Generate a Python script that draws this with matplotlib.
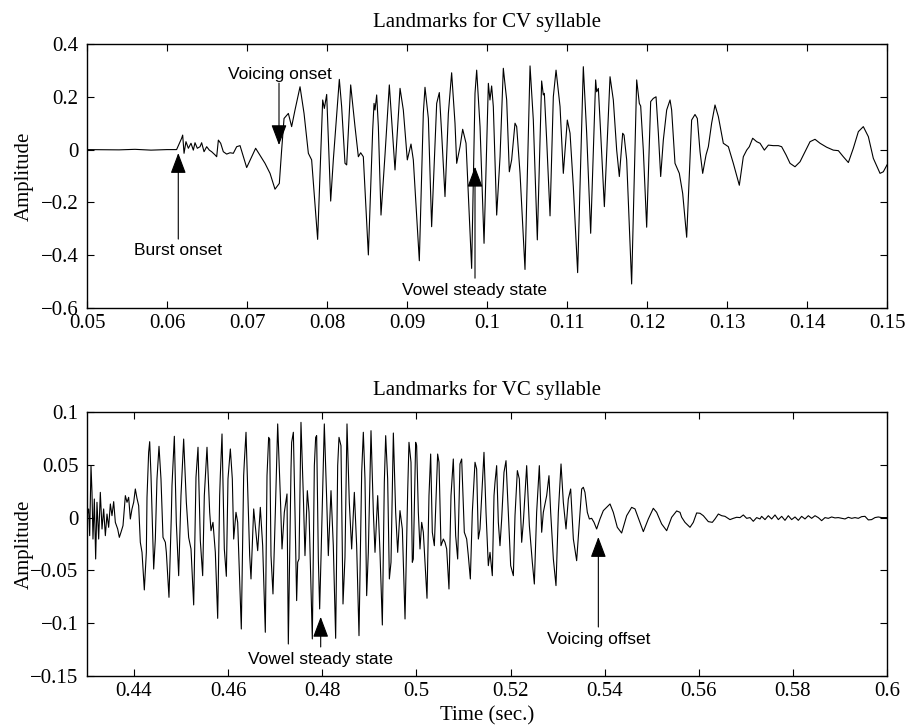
import matplotlib
matplotlib.use("Agg")
import matplotlib.pyplot as plt
from matplotlib.ticker import FixedLocator, FuncFormatter

# ---- CV syllable waveform (time in s, amplitude) ----
cv_time = [
    0.0500, 0.0540, 0.0560, 0.0580, 0.0600, 0.0612, 0.06183, 0.06196, 0.06213, 0.06237,
    0.06267, 0.06300, 0.06329, 0.06350, 0.06379, 0.06413, 0.06433, 0.06463, 0.06496, 0.06529,
    0.06558, 0.06600, 0.06621, 0.06642, 0.06671, 0.06704, 0.06746, 0.06788, 0.06829, 0.06871,
    0.06913, 0.06996, 0.07108, 0.07225, 0.07288, 0.07350, 0.07404, 0.07433, 0.07463, 0.07517,
    0.07558, 0.07600, 0.07663, 0.07713, 0.07767, 0.07808, 0.07883, 0.07946, 0.07967, 0.07996,
    0.08017, 0.08046, 0.08079, 0.08154, 0.08183, 0.08225, 0.08246, 0.08296, 0.08350, 0.08392,
    0.08421, 0.08454, 0.08517, 0.08571, 0.08588, 0.08600, 0.08621, 0.08642, 0.08675, 0.08725,
    0.08779, 0.08850, 0.08913, 0.08954, 0.09004, 0.09050, 0.09079, 0.09154, 0.09204, 0.09225,
    0.09267, 0.09308, 0.09371, 0.09404, 0.09433, 0.09475, 0.09517, 0.09558, 0.09600, 0.09621,
    0.09663, 0.09696, 0.09738, 0.09808, 0.09850, 0.09871, 0.09913, 0.09963, 0.10017, 0.10037,
    0.10058, 0.10079, 0.10121, 0.10163, 0.10204, 0.10246, 0.10279, 0.10308, 0.10350, 0.10371,
    0.10413, 0.10475, 0.10538, 0.10579, 0.10629, 0.10683, 0.10704, 0.10717, 0.10746, 0.10788,
    0.10829, 0.10863, 0.10913, 0.10954, 0.11004, 0.11038, 0.11079, 0.11133, 0.11204, 0.11246,
    0.11296, 0.11358, 0.11371, 0.11392, 0.11421, 0.11467, 0.11538, 0.11579, 0.11621, 0.11654,
    0.11696, 0.11713, 0.11746, 0.11808, 0.11871, 0.11904, 0.11921, 0.11954, 0.11996, 0.12046,
    0.12079, 0.12113, 0.12142, 0.12171, 0.12204, 0.12246, 0.12288, 0.12308, 0.12350, 0.12404,
    0.12446, 0.12496, 0.12558, 0.12600, 0.12629, 0.12663, 0.12696, 0.12738, 0.12767, 0.12808,
    0.12850, 0.12892, 0.12954, 0.13017, 0.13079, 0.13154, 0.13204, 0.13246, 0.13279, 0.13321,
    0.13371, 0.13413, 0.13467, 0.13517, 0.13579, 0.13642, 0.13683, 0.13738, 0.13788, 0.13850,
    0.13913, 0.13975, 0.14038, 0.14100, 0.14163, 0.14246, 0.14329, 0.14392, 0.14454, 0.14517,
    0.14579, 0.14642, 0.14704, 0.14767, 0.14829, 0.14913, 0.14954, 0.15000,
]
cv_amp = [
    0.000, -0.001, 0.001, -0.002, 0.000, 0.000, 0.043, 0.055, -0.014, 0.030,
    0.005, 0.024, -0.002, 0.026, 0.005, 0.011, 0.026, -0.008, 0.011, -0.002,
    -0.008, -0.020, -0.027, 0.036, 0.024, -0.008, -0.017, -0.012, -0.014, 0.011,
    0.015, -0.068, 0.005, -0.052, -0.090, -0.150, -0.128, -0.002, 0.118, 0.137,
    0.087, 0.150, 0.238, 0.137, -0.014, -0.039, -0.340, 0.188, 0.156, 0.209,
    0.036, -0.195, -0.039, 0.266, 0.163, -0.052, -0.058, 0.245, 0.087, -0.027,
    -0.012, -0.027, -0.399, 0.074, 0.175, 0.150, 0.207, 0.087, -0.248, -0.020,
    0.245, -0.077, 0.232, 0.150, -0.039, 0.021, -0.039, -0.421, 0.137, 0.236,
    0.118, -0.292, 0.175, 0.216, 0.062, -0.178, 0.137, 0.291, 0.100, -0.052,
    0.011, 0.077, 0.024, -0.450, 0.213, 0.301, 0.087, -0.355, 0.251, 0.188,
    0.241, 0.163, -0.248, -0.027, 0.308, 0.188, -0.084, -0.039, 0.100, 0.087,
    -0.090, -0.454, 0.317, 0.112, -0.342, 0.260, 0.207, 0.213, 0.036, -0.251,
    0.200, 0.301, 0.163, -0.090, 0.112, 0.062, -0.140, -0.466, 0.314, 0.062,
    -0.317, 0.264, 0.219, 0.232, 0.062, -0.216, 0.276, 0.188, -0.002, -0.102,
    0.062, 0.055, -0.039, -0.509, 0.264, 0.175, 0.165, -0.002, -0.294, 0.182,
    0.194, 0.200, 0.062, -0.102, 0.036, 0.150, 0.188, 0.150, -0.052, -0.090,
    -0.166, -0.332, 0.112, 0.133, 0.118, -0.008, -0.090, -0.020, 0.011, 0.100,
    0.169, 0.125, 0.024, 0.011, -0.052, -0.135, -0.027, -0.002, 0.011, 0.043,
    0.030, 0.024, -0.002, 0.017, 0.015, 0.015, 0.011, -0.020, -0.052, -0.065,
    -0.046, -0.008, 0.030, 0.039, 0.024, 0.009, -0.002, -0.004, -0.027, -0.049,
    0.005, 0.068, 0.087, 0.049, -0.033, -0.090, -0.084, -0.058,
]

# ---- VC syllable waveform ----
vc_time = [
    0.43000, 0.43035, 0.43057, 0.43085, 0.43106, 0.43127, 0.43156, 0.43184, 0.43212, 0.43248,
    0.43283, 0.43319, 0.43354, 0.43390, 0.43425, 0.43460, 0.43496, 0.43531, 0.43567, 0.43602,
    0.43652, 0.43687, 0.43722, 0.43765, 0.43815, 0.43850, 0.43885, 0.43921, 0.43956, 0.43992,
    0.44027, 0.44062, 0.44098, 0.44133, 0.44169, 0.44218, 0.44261, 0.44275, 0.44310, 0.44332,
    0.44360, 0.44417, 0.44452, 0.44487, 0.44530, 0.44572, 0.44615, 0.44665, 0.44686, 0.44742,
    0.44792, 0.44806, 0.44856, 0.44898, 0.44948, 0.44997, 0.45054, 0.45111, 0.45160, 0.45210,
    0.45267, 0.45302, 0.45316, 0.45359, 0.45408, 0.45458, 0.45493, 0.45550, 0.45607, 0.45635,
    0.45677, 0.45727, 0.45777, 0.45819, 0.45833, 0.45869, 0.45918, 0.45961, 0.45996, 0.46046,
    0.46088, 0.46117, 0.46166, 0.46202, 0.46279, 0.46329, 0.46343, 0.46379, 0.46457, 0.46485,
    0.46542, 0.46627, 0.46683, 0.46733, 0.46789, 0.46825, 0.46860, 0.46882, 0.46910, 0.46952,
    0.47002, 0.47052, 0.47108, 0.47144, 0.47193, 0.47250, 0.47278, 0.47335, 0.47349, 0.47385,
    0.47420, 0.47455, 0.47477, 0.47505, 0.47547, 0.47597, 0.47632, 0.47682, 0.47718, 0.47788,
    0.47831, 0.47859, 0.47880, 0.47916, 0.47944, 0.47972, 0.48043, 0.48093, 0.48128, 0.48185,
    0.48234, 0.48284, 0.48327, 0.48355, 0.48397, 0.48440, 0.48482, 0.48525, 0.48574, 0.48624,
    0.48681, 0.48730, 0.48780, 0.48837, 0.48872, 0.48907, 0.48943, 0.48978, 0.49035, 0.49085,
    0.49120, 0.49177, 0.49226, 0.49276, 0.49318, 0.49347, 0.49389, 0.49425, 0.49460, 0.49510,
    0.49559, 0.49602, 0.49651, 0.49701, 0.49758, 0.49814, 0.49842, 0.49885, 0.49913, 0.49934,
    0.49984, 0.50005, 0.50041, 0.50076, 0.50112, 0.50147, 0.50225, 0.50267, 0.50303, 0.50338,
    0.50381, 0.50451, 0.50480, 0.50522, 0.50572, 0.50607, 0.50643, 0.50692, 0.50735, 0.50784,
    0.50834, 0.50877, 0.50926, 0.50962, 0.51018, 0.51068, 0.51103, 0.51146, 0.51188, 0.51245,
    0.51280, 0.51316, 0.51351, 0.51436, 0.51479, 0.51528, 0.51564, 0.51613, 0.51649, 0.51670,
    0.51705, 0.51741, 0.51776, 0.51812, 0.51861, 0.51904, 0.51953, 0.52003, 0.52060, 0.52095,
    0.52145, 0.52187, 0.52237, 0.52272, 0.52343, 0.52400, 0.52463, 0.52506, 0.52555, 0.52612,
    0.52662, 0.52697, 0.52768, 0.52817, 0.52853, 0.52910, 0.52966, 0.53016, 0.53073, 0.53122,
    0.53179, 0.53228, 0.53278, 0.53335, 0.53405, 0.53476, 0.53512, 0.53547, 0.53582, 0.53632,
    0.53675, 0.53724, 0.53774, 0.53830, 0.53901, 0.53972, 0.54043, 0.54114, 0.54184, 0.54269,
    0.54361, 0.54468, 0.54574, 0.54645, 0.54751, 0.54822, 0.54928, 0.55034, 0.55105, 0.55211,
    0.55318, 0.55424, 0.55530, 0.55601, 0.55637, 0.55707, 0.55814, 0.55884, 0.55955, 0.56026,
    0.56097, 0.56203, 0.56288, 0.56345, 0.56416, 0.56487, 0.56557, 0.56663, 0.56734, 0.56805,
    0.56876, 0.56947, 0.57018, 0.57089, 0.57159, 0.57230, 0.57301, 0.57336, 0.57407, 0.57478,
    0.57549, 0.57620, 0.57691, 0.57762, 0.57832, 0.57903, 0.57974, 0.58045, 0.58116, 0.58186,
    0.58257, 0.58328, 0.58399, 0.58470, 0.58540, 0.58611, 0.58682, 0.58753, 0.58824, 0.58895,
    0.58965, 0.59036, 0.59107, 0.59178, 0.59249, 0.59320, 0.59390, 0.59461, 0.59532, 0.59603,
    0.59673, 0.59744, 0.59815, 0.59886, 0.60000,
]
vc_amp = [
    0.0018, 0.0082, -0.0171, 0.0492, 0.0239, -0.0203, 0.0176, -0.0392, 0.0145, -0.0203,
    0.0239, -0.0108, 0.0082, -0.0171, 0.0034, -0.0092, 0.0129, 0.0018, 0.0151, -0.0045,
    -0.0108, -0.0187, -0.0139, -0.0076, 0.0208, 0.0145, 0.0192, -0.0013, 0.0082, 0.0145,
    0.0271, 0.0183, 0.0113, -0.0234, -0.0329, -0.0685, -0.0329, 0.0192, 0.0618, 0.0719,
    0.0397, -0.0487, -0.0203, 0.0366, 0.0675, 0.0366, -0.0187, -0.0234, -0.0329, -0.0755,
    0.0018, 0.0303, 0.0770, -0.0045, -0.0550, 0.0208, 0.0744, 0.0145, -0.0187, -0.0297,
    -0.0827, 0.0050, 0.0382, 0.0666, -0.0218, -0.0550, 0.0208, 0.0666, 0.0050, -0.0124,
    -0.0045, -0.0329, -0.0954, 0.0208, 0.0397, 0.0792, -0.0297, -0.0556, 0.0366, 0.0650,
    0.0366, -0.0203, 0.0050, -0.0045, -0.1055, 0.0397, 0.0524, 0.0808, -0.0360, -0.0581,
    0.0082, -0.0313, 0.0097, -0.0266, -0.1086, 0.0397, 0.0760, 0.0744, -0.0360, -0.0723,
    0.0050, 0.0887, 0.0208, -0.0297, 0.0050, 0.0224, -0.1197, 0.0460, 0.0713, 0.0808,
    0.0050, -0.0786, -0.0423, -0.0392, 0.0902, 0.0208, -0.0360, 0.0255, 0.0050, -0.1149,
    0.0492, 0.0760, 0.0776, -0.0392, -0.0865, -0.0392, 0.0887, 0.0176, -0.0360, 0.0255,
    -0.0266, -0.1143, 0.0492, 0.0760, 0.0681, -0.0818, -0.0376, 0.0887, 0.0145, -0.0297,
    0.0239, -0.0266, -0.1118, 0.0429, 0.0808, 0.0366, -0.0739, -0.0329, 0.0823, 0.0050,
    -0.0329, 0.0208, -0.0329, -0.1017, 0.0334, 0.0776, 0.0366, -0.0581, -0.0423, 0.0801,
    0.0050, -0.0329, 0.0066, -0.0108, -0.0960, 0.0239, 0.0713, 0.0524, -0.0423, -0.0392,
    0.0713, 0.0681, 0.0050, -0.0297, -0.0045, -0.0139, -0.0764, 0.0208, 0.0602, -0.0139,
    -0.0266, 0.0602, 0.0524, -0.0266, -0.0203, -0.0234, -0.0297, -0.0676, 0.0208, 0.0555,
    -0.0171, -0.0392, 0.0508, 0.0555, -0.0139, -0.0203, -0.0360, -0.0581, 0.0050, 0.0524,
    0.0460, -0.0203, -0.0108, 0.0618, 0.0050, -0.0455, -0.0329, -0.0550, 0.0208, 0.0334,
    0.0492, -0.0045, -0.0266, -0.0013, 0.0429, 0.0539, 0.0050, -0.0455, -0.0550, 0.0018,
    0.0445, 0.0366, -0.0234, -0.0045, 0.0492, -0.0076, -0.0423, -0.0629, 0.0050, 0.0492,
    -0.0139, 0.0050, 0.0208, 0.0397, 0.0050, -0.0392, -0.0644, 0.0050, 0.0508, 0.0145,
    -0.0108, 0.0176, 0.0271, -0.0203, -0.0408, 0.0050, 0.0271, 0.0287, 0.0239, 0.0050,
    -0.0013, -0.0007, -0.0045, -0.0108, -0.0013, 0.0066, 0.0097, 0.0129, 0.0050, -0.0092,
    -0.0146, 0.0018, 0.0097, 0.0082, -0.0045, -0.0133, -0.0013, 0.0088, 0.0050, -0.0060,
    -0.0124, 0.0003, 0.0063, 0.0050, 0.0003, -0.0045, -0.0092, -0.0045, 0.0044, 0.0041,
    0.0018, -0.0038, -0.0045, -0.0013, 0.0034, 0.0018, 0.0012, -0.0019, -0.0007, 0.0003,
    0.0000, 0.0025, -0.0007, 0.0000, -0.0035, 0.0000, -0.0013, 0.0012, -0.0019, 0.0018,
    -0.0013, 0.0025, -0.0019, 0.0012, -0.0026, 0.0018, -0.0019, 0.0006, -0.0026, 0.0012,
    -0.0013, 0.0018, -0.0007, 0.0018, 0.0000, -0.0029, 0.0000, -0.0007, 0.0006, -0.0003,
    0.0000, -0.0007, -0.0013, 0.0003, -0.0007, 0.0000, -0.0007, 0.0009, 0.0012, -0.0022,
    -0.0019, 0.0000, 0.0006, 0.0000, 0.0000,
]

# ---- landmarks: (label, time, amplitude at arrow tip) ----
cv_marks = ["Voicing onset", "Burst onset", "Vowel steady state"]
cv_mark_t = [0.0740, 0.06141, 0.0985]
cv_mark_a = [0.017, -0.013, -0.065]
vc_marks = ["Vowel steady state", "Voicing offset"]
vc_mark_t = [0.47966, 0.53866]
vc_mark_a = [-0.094, -0.0184]

SERIF = ['Liberation Serif', 'DejaVu Serif']
SANS = ['Liberation Sans', 'DejaVu Sans']
plt.rcParams['font.family'] = SERIF
plt.rcParams['font.size'] = 15


def fmt(v, _):
    s = f'{v:g}'
    return s.replace('-', '\u2212')


def style_axes(ax, xticks, yticks):
    ax.xaxis.set_major_locator(FixedLocator(xticks))
    ax.yaxis.set_major_locator(FixedLocator(yticks))
    ax.xaxis.set_major_formatter(FuncFormatter(fmt))
    ax.yaxis.set_major_formatter(FuncFormatter(fmt))
    ax.tick_params(direction='in', length=5, width=0.8, top=True, right=True,
                   labelsize=15)
    ax.tick_params(axis='x', pad=4)
    ax.tick_params(axis='y', pad=6)
    for sp in ax.spines.values():
        sp.set_linewidth(1.0)
    ax.set_ylabel('Amplitude', fontsize=15)
    ax.yaxis.set_label_coords(-0.066, 0.5)


def arrow(ax, t, a, tail, text_y, label):
    ax.annotate('', xy=(t, a), xytext=(t, tail),
                arrowprops=dict(arrowstyle='-|>,head_length=0.85,head_width=0.32',
                                color='black', lw=0.8, shrinkA=0, shrinkB=0))
    ax.text(t, text_y, label, family=SANS, fontsize=12.5,
            ha='center', va='center')


fig = plt.figure(figsize=(9.07, 7.26), dpi=100)
ax1 = fig.add_axes([87 / 907, 1 - 308 / 726, 800 / 907, 264 / 726])
ax2 = fig.add_axes([87 / 907, 1 - 676 / 726, 800 / 907, 264 / 726])

# top panel
ax1.plot(cv_time, cv_amp, color='black', lw=0.8)
ax1.set_xlim(0.05, 0.15)
ax1.set_ylim(-0.6, 0.4)
style_axes(ax1, [0.05 + 0.01 * i for i in range(11)], [-0.6, -0.4, -0.2, 0, 0.2, 0.4])
ax1.set_title('Landmarks for CV syllable', fontsize=15, pad=12)

# voicing onset: arrow points down from text
ax1.annotate('', xy=(cv_mark_t[0], cv_mark_a[0]), xytext=(cv_mark_t[0], 0.252),
             arrowprops=dict(arrowstyle='-|>,head_length=0.85,head_width=0.32',
                             color='black', lw=0.8, shrinkA=0, shrinkB=0))
ax1.text(0.07413, 0.286, cv_marks[0], family=SANS, fontsize=12.5, ha='center', va='center')
arrow(ax1, cv_mark_t[1], cv_mark_a[1], -0.339, -0.382, cv_marks[1])
arrow(ax1, cv_mark_t[2], cv_mark_a[2], -0.487, -0.532, cv_marks[2])

# bottom panel
ax2.plot(vc_time, vc_amp, color='black', lw=0.8)
ax2.set_xlim(0.43, 0.6)
ax2.set_ylim(-0.15, 0.1)
style_axes(ax2, [0.44 + 0.02 * i for i in range(9)], [-0.15, -0.1, -0.05, 0, 0.05, 0.1])
ax2.set_title('Landmarks for VC syllable', fontsize=15, pad=12)
ax2.set_xlabel('Time (sec.)', fontsize=15)
ax2.xaxis.set_label_coords(0.5, -0.115)

arrow(ax2, vc_mark_t[0], vc_mark_a[0], -0.1225, -0.1347, vc_marks[0])
arrow(ax2, vc_mark_t[1], vc_mark_a[1], -0.1036, -0.1157, vc_marks[1])

fig.savefig('out.png', dpi=100, facecolor='white')
